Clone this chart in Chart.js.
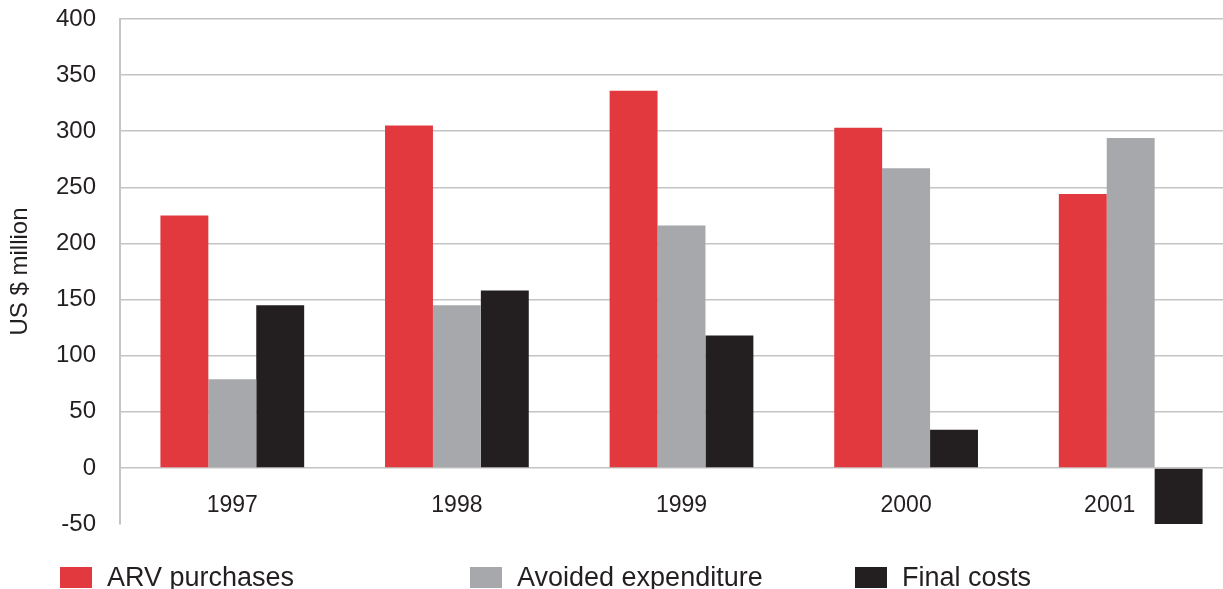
<!DOCTYPE html>
<html>
<head>
<meta charset="utf-8">
<script src="https://cdn.jsdelivr.net/npm/chart.js@4/dist/chart.umd.min.js"></script>
<style>
  html, body { margin: 0; padding: 0; background: #ffffff; overflow: hidden; width: 1223px; height: 589px; }
  #wrap { position: absolute; left: 0; top: 0; width: 1243px; height: 589px; }
  #legend { position: absolute; left: 0; top: 0; width: 1223px; height: 589px; pointer-events: none;
            font-family: "Liberation Sans", Arial, Helvetica, sans-serif; font-size: 27px; color: #231f20; }
  .li { position: absolute; top: 563px; height: 28px; display: flex; align-items: center; white-space: nowrap; }
  .li .box { width: 32px; height: 21px; margin-right: 15px; }
</style>
</head>
<body>
<div id="wrap"><canvas id="c" width="1243" height="589"></canvas></div>
<div id="legend"></div>
<script>
const categories = ["1997", "1998", "1999", "2000", "2001"];
const seriesNames = ["ARV purchases", "Avoided expenditure", "Final costs"];
const arvPurchases = [225, 305, 336, 303, 244];
const avoidedExpenditure = [79, 145, 216, 267, 294];
const finalCosts = [145, 158, 118, 34, -52];
const yTicks = [-50, 0, 50, 100, 150, 200, 250, 300, 350, 400];
const seriesColors = ["#e2393f", "#a7a8ab", "#231f20"];
const legendLeft = [60, 470, 855];

const FONT = '"Liberation Sans", Arial, Helvetica, sans-serif';

const htmlLegend = {
  id: 'htmlLegend',
  afterUpdate(chart) {
    const el = document.getElementById('legend');
    el.innerHTML = '';
    chart.data.datasets.forEach((ds, i) => {
      const item = document.createElement('div');
      item.className = 'li';
      item.style.left = legendLeft[i] + 'px';
      const box = document.createElement('span');
      box.className = 'box';
      box.style.background = ds.backgroundColor;
      const txt = document.createElement('span');
      txt.textContent = ds.label;
      item.appendChild(box);
      item.appendChild(txt);
      el.appendChild(item);
    });
  }
};

// the last category label sits left of the negative bar, as in the original
const shiftLastLabel = {
  id: 'shiftLastLabel',
  beforeDraw(chart) {
    try {
      const xs = chart.scales.x;
      const items = xs.getLabelItems(chart.chartArea);
      const last = items[items.length - 1];
      if (last && last.options && last.options.translation && !last._shifted) {
        last.options.translation[0] -= 21;
        last._shifted = true;
      }
    } catch (e) {}
  }
};

new Chart(document.getElementById('c'), {
  type: 'bar',
  data: {
    labels: categories,
    datasets: [
      { label: seriesNames[0], data: arvPurchases, backgroundColor: seriesColors[0] },
      { label: seriesNames[1], data: avoidedExpenditure, backgroundColor: seriesColors[1] },
      { label: seriesNames[2], data: finalCosts, backgroundColor: seriesColors[2] }
    ]
  },
  options: {
    responsive: false,
    animation: false,
    devicePixelRatio: 1,
    datasets: { bar: { categoryPercentage: 0.64, barPercentage: 1.0 } },
    layout: { padding: { top: 19, bottom: 65, left: 0, right: 0 } },
    plugins: { legend: { display: false }, tooltip: { enabled: false } },
    scales: {
      x: {
        position: { y: 0 },
        grid: { display: false, drawTicks: false },
        border: { display: false },
        ticks: { color: '#231f20', font: { family: FONT, size: 23 }, padding: 24, maxRotation: 0 }
      },
      y: {
        min: -50, max: 400,
        afterBuildTicks: (scale) => { scale.ticks = yTicks.map(v => ({ value: v })); },
        afterFit: (scale) => { scale.width = 120; scale.paddingTop = 0; scale.paddingBottom = 0; },
        grid: {
          drawTicks: false,
          lineWidth: 1.5,
          color: (ctx) => (ctx.tick && ctx.tick.value === -50) ? 'rgba(0,0,0,0)' : '#c4c4c4'
        },
        border: { display: true, color: '#c4c4c4', width: 2 },
        ticks: { color: '#231f20', font: { family: FONT, size: 24 }, padding: 24 },
        title: { display: true, text: 'US $ million', color: '#231f20', font: { family: FONT, size: 24 }, padding: { top: 6, bottom: 0 } }
      }
    }
  },
  plugins: [htmlLegend, shiftLastLabel]
});
</script>
</body>
</html>
